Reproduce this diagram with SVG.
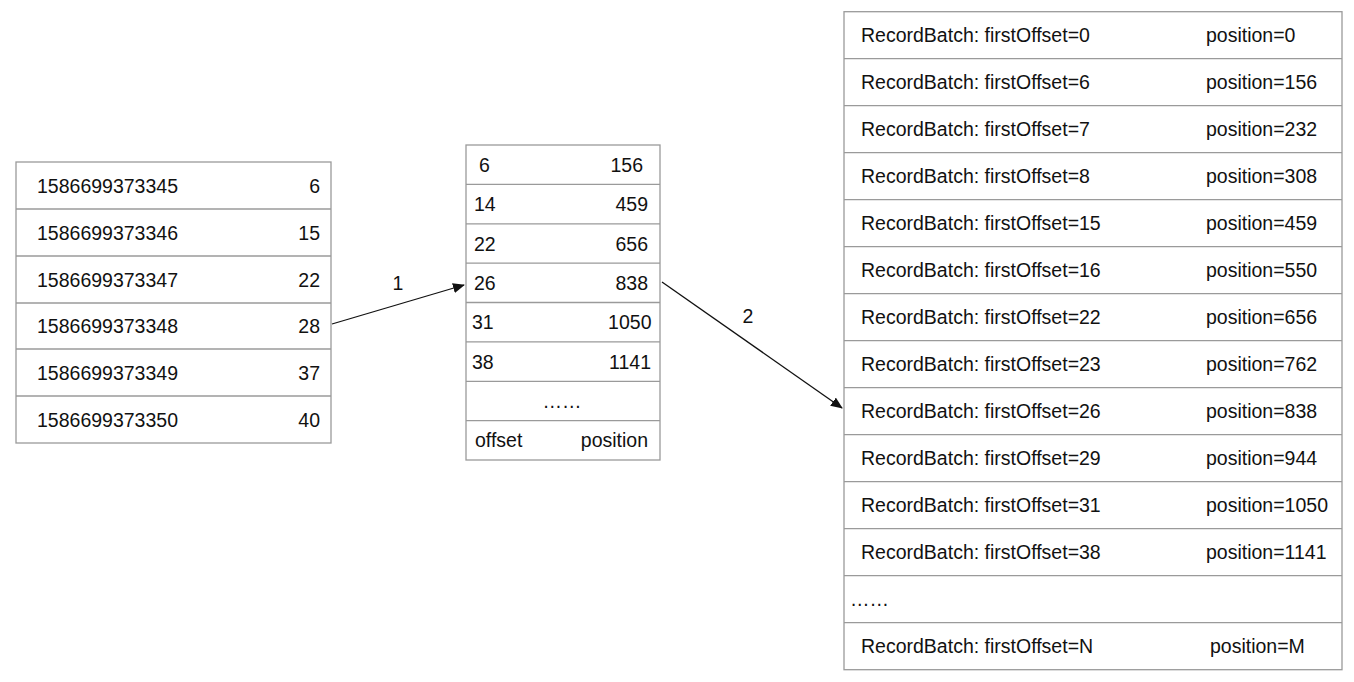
<svg xmlns="http://www.w3.org/2000/svg" width="1354" height="682" viewBox="0 0 1354 682">
<style>
.box{fill:#fff;stroke:#9a9a9a;stroke-width:1.3}
.sep{stroke:#9a9a9a;stroke-width:1.3}
text{font-family:"Liberation Sans",Arial,Helvetica,sans-serif;font-size:19.5px;fill:#111}
.r{text-anchor:end}
.c{text-anchor:middle}
.conn{stroke:#111;stroke-width:1.3;fill:none}
</style>
<defs>
<marker id="ah" markerWidth="12" markerHeight="10" refX="11" refY="5" orient="auto" markerUnits="userSpaceOnUse">
<path d="M0,0 L12,5 L0,10 Z" fill="#111"/>
</marker>
</defs>
<rect width="1354" height="682" fill="#fff"/>

<g id="timeindex">
<rect class="box" x="16" y="162" width="315" height="281"/>
<line class="sep" x1="16" y1="209" x2="331" y2="209"/>
<line class="sep" x1="16" y1="256" x2="331" y2="256"/>
<line class="sep" x1="16" y1="303" x2="331" y2="303"/>
<line class="sep" x1="16" y1="349" x2="331" y2="349"/>
<line class="sep" x1="16" y1="396" x2="331" y2="396"/>
<text x="37" y="192.5">1586699373345</text><text class="r" x="320" y="192.5">6</text>
<text x="37" y="239.5">1586699373346</text><text class="r" x="320" y="239.5">15</text>
<text x="37" y="286.5">1586699373347</text><text class="r" x="320" y="286.5">22</text>
<text x="37" y="333">1586699373348</text><text class="r" x="320" y="333">28</text>
<text x="37" y="379.5">1586699373349</text><text class="r" x="320" y="379.5">37</text>
<text x="37" y="426.5">1586699373350</text><text class="r" x="320" y="426.5">40</text>
</g>

<g id="offsetindex">
<rect class="box" x="466" y="145" width="194" height="315"/>
<line class="sep" x1="466" y1="184.4" x2="660" y2="184.4"/>
<line class="sep" x1="466" y1="223.8" x2="660" y2="223.8"/>
<line class="sep" x1="466" y1="263.1" x2="660" y2="263.1"/>
<line class="sep" x1="466" y1="302.5" x2="660" y2="302.5"/>
<line class="sep" x1="466" y1="341.9" x2="660" y2="341.9"/>
<line class="sep" x1="466" y1="381.3" x2="660" y2="381.3"/>
<line class="sep" x1="466" y1="420.6" x2="660" y2="420.6"/>
<text x="479" y="171.5">6</text><text class="r" x="643" y="171.5">156</text>
<text x="474" y="211">14</text><text class="r" x="648" y="211">459</text>
<text x="474" y="250.5">22</text><text class="r" x="648" y="250.5">656</text>
<text x="474" y="289.8">26</text><text class="r" x="648" y="289.8">838</text>
<text x="472" y="329.2">31</text><text class="r" x="651.5" y="329.2">1050</text>
<text x="472" y="368.6">38</text><text class="r" x="651" y="368.6">1141</text>
<text class="c" x="562" y="407.5">……</text>
<text x="475" y="447.3">offset</text><text class="r" x="648" y="447.3">position</text>
</g>

<g id="logsegment">
<rect class="box" x="844" y="11.7" width="498" height="658"/>
<line class="sep" x1="844" y1="58.7" x2="1342" y2="58.7"/>
<line class="sep" x1="844" y1="105.7" x2="1342" y2="105.7"/>
<line class="sep" x1="844" y1="152.7" x2="1342" y2="152.7"/>
<line class="sep" x1="844" y1="199.7" x2="1342" y2="199.7"/>
<line class="sep" x1="844" y1="246.7" x2="1342" y2="246.7"/>
<line class="sep" x1="844" y1="293.7" x2="1342" y2="293.7"/>
<line class="sep" x1="844" y1="340.7" x2="1342" y2="340.7"/>
<line class="sep" x1="844" y1="387.7" x2="1342" y2="387.7"/>
<line class="sep" x1="844" y1="434.7" x2="1342" y2="434.7"/>
<line class="sep" x1="844" y1="481.7" x2="1342" y2="481.7"/>
<line class="sep" x1="844" y1="528.7" x2="1342" y2="528.7"/>
<line class="sep" x1="844" y1="575.7" x2="1342" y2="575.7"/>
<line class="sep" x1="844" y1="622.7" x2="1342" y2="622.7"/>
<text x="861" y="42.2">RecordBatch: firstOffset=0</text><text x="1206" y="42.2">position=0</text>
<text x="861" y="89.2">RecordBatch: firstOffset=6</text><text x="1206" y="89.2">position=156</text>
<text x="861" y="136.2">RecordBatch: firstOffset=7</text><text x="1206" y="136.2">position=232</text>
<text x="861" y="183.2">RecordBatch: firstOffset=8</text><text x="1206" y="183.2">position=308</text>
<text x="861" y="230.2">RecordBatch: firstOffset=15</text><text x="1206" y="230.2">position=459</text>
<text x="861" y="277.2">RecordBatch: firstOffset=16</text><text x="1206" y="277.2">position=550</text>
<text x="861" y="324.2">RecordBatch: firstOffset=22</text><text x="1206" y="324.2">position=656</text>
<text x="861" y="371.2">RecordBatch: firstOffset=23</text><text x="1206" y="371.2">position=762</text>
<text x="861" y="418.2">RecordBatch: firstOffset=26</text><text x="1206" y="418.2">position=838</text>
<text x="861" y="465.2">RecordBatch: firstOffset=29</text><text x="1206" y="465.2">position=944</text>
<text x="861" y="512.2">RecordBatch: firstOffset=31</text><text x="1206" y="512.2">position=1050</text>
<text x="861" y="559.2">RecordBatch: firstOffset=38</text><text x="1206" y="559.2">position=1141</text>
<text x="850" y="606.2">……</text>
<text x="861" y="653.2">RecordBatch: firstOffset=N</text><text x="1210" y="653.2">position=M</text>
</g>

<g id="connectors">
<line class="conn" x1="332" y1="324" x2="464" y2="285" marker-end="url(#ah)"/>
<line class="conn" x1="662" y1="282" x2="842" y2="408" marker-end="url(#ah)"/>
<text class="c" x="398" y="290">1</text>
<text class="c" x="748" y="323">2</text>
</g>
</svg>
